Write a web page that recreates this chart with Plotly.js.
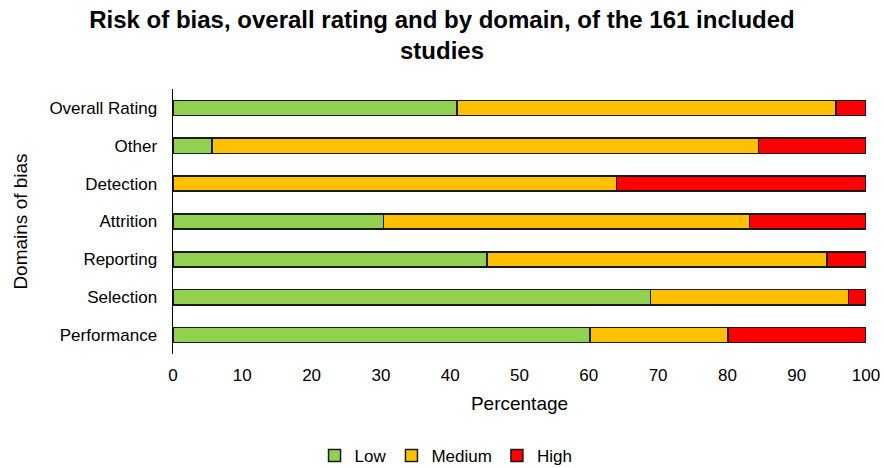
<!DOCTYPE html>
<html>
<head>
<meta charset="utf-8">
<script src="https://cdn.plot.ly/plotly-3.0.1.min.js"></script>
<style>
  html, body { margin: 0; padding: 0; background: #fff; }
  #chart { width: 884px; height: 468px; }
</style>
</head>
<body>
<div id="chart"></div>
<script>
// Risk-of-bias domains (bottom to top on the chart)
const domains = ["Performance", "Selection", "Reporting", "Attrition", "Detection", "Other", "Overall Rating"];

// Percentage of the 161 studies in each rating, per domain
const lowPct    = [60.2, 68.9, 45.3, 30.4, 0.0, 5.6, 41.0];
const mediumPct = [19.9, 28.6, 49.1, 52.8, 64.0, 78.9, 54.7];
const highPct   = [19.9, 2.5, 5.6, 16.8, 36.0, 15.5, 4.3];

const xTicks = [0, 10, 20, 30, 40, 50, 60, 70, 80, 90, 100];

const outline = { color: "#1a1a1a", width: 1.5 };

function series(name, values, color) {
  return {
    type: "bar",
    orientation: "h",
    name: name,
    y: domains,
    x: values,
    marker: { color: color, line: outline },
    hoverinfo: "name+x"
  };
}

const data = [
  series("Low", lowPct, "#92d050"),
  series("Medium", mediumPct, "#ffc000"),
  series("High", highPct, "#ff0000")
];

const layout = {
  width: 884,
  height: 468,
  barmode: "stack",
  bargap: 0.6,
  paper_bgcolor: "#ffffff",
  plot_bgcolor: "#ffffff",
  font: { family: "Liberation Sans, Arial, sans-serif", size: 17, color: "#000" },
  margin: { l: 173, r: 18, t: 89, b: 114, autoexpand: false },
  title: {
    text: "<b>Risk of bias, overall rating and by domain, of the 161 included<br>studies</b>",
    font: { size: 24, color: "#000" },
    x: 0.5,
    xanchor: "center",
    y: 0.94,
    yanchor: "middle"
  },
  xaxis: {
    range: [0, 100],
    tickvals: xTicks,
    ticktext: xTicks.map(String),
    showgrid: false,
    zeroline: false,
    showline: false,
    ticks: "",
    ticklabelstandoff: 9,
    tickfont: { size: 17 },
    title: { text: "Percentage", font: { size: 19 }, standoff: 12 }
  },
  yaxis: {
    type: "category",
    categoryorder: "array",
    categoryarray: domains,
    showgrid: false,
    zeroline: false,
    showline: true,
    linecolor: "#000",
    linewidth: 1.5,
    ticks: "",
    ticklabelstandoff: 11,
    tickfont: { size: 17 },
    title: { text: "Domains of bias", font: { size: 19 }, standoff: 16 }
  },
  showlegend: true,
  legend: {
    orientation: "h",
    x: 0.394,
    xanchor: "center",
    y: -0.385,
    yanchor: "middle",
    font: { size: 17 },
    itemwidth: 30,
    traceorder: "normal"
  }
};

Plotly.newPlot("chart", data, layout, { displayModeBar: false, staticPlot: true });
</script>
</body>
</html>
